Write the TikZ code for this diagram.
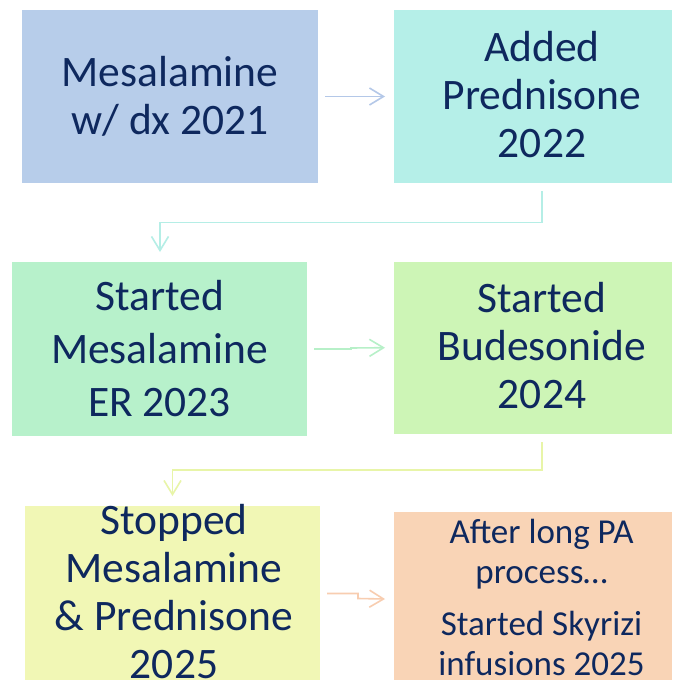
\documentclass[tikz,border=0pt]{standalone}
\usepackage{fontspec}
\setmainfont{Carlito}
\usetikzlibrary{arrows.meta,calc}
\definecolor{navy}{RGB}{14,40,94}
\definecolor{cA}{HTML}{B7CDEA}
\definecolor{cB}{HTML}{B5EFE8}
\definecolor{cC}{HTML}{B7F1CB}
\definecolor{cD}{HTML}{CDF5B6}
\definecolor{cE}{HTML}{F1F7B5}
\definecolor{cF}{HTML}{F9D4B6}
\definecolor{aA}{HTML}{B4C8E8}
\definecolor{aB}{HTML}{B5EEE6}
\definecolor{aC}{HTML}{B7F0C8}
\definecolor{aD}{HTML}{E8F5A8}
\definecolor{aF}{HTML}{F8CDB0}
\tikzset{
  boxnode/.style={draw=none, inner sep=0pt, outer sep=0pt, minimum width=#1},
  txt/.style={text=navy, align=center, inner sep=0pt, font=\fontsize{43.5}{48}\selectfont},
  arr/.style={line width=1.6pt, -{Straight Barb[length=14pt,width=17pt,line width=1.6pt]}},
}
\begin{document}
\begin{tikzpicture}[x=1pt,y=-1pt]
\fill[white] (0,0) rectangle (673,680);
\useasboundingbox (0,0) rectangle (673,680);
% boxes
\node[boxnode=296pt, minimum height=173pt, fill=cA] (b1) at (170,96.5) {};
\node[boxnode=278pt, minimum height=173pt, fill=cB] (b2) at (533,96.5) {};
\node[boxnode=295pt, minimum height=174pt, fill=cC] (b3) at (159.5,349) {};
\node[boxnode=278pt, minimum height=172pt, fill=cD] (b4) at (533,348) {};
\node[boxnode=295pt, minimum height=174pt, fill=cE] (b5) at (172.5,593) {};
\node[boxnode=278pt, minimum height=168pt, fill=cF] (b6) at (533,596) {};
% texts
\node[txt] (t1) at ([yshift=0]b1.center) {Mesalamine\\w/ dx 2021};
\node[txt] (t2) at ([xshift=9,yshift=2]b2.center) {Added\\Prednisone\\2022};
\node[txt, font=\fontsize{43.5}{53}\selectfont] (t3) at ([yshift=0]b3.center) {Started\\Mesalamine\\ER 2023};
\node[txt] (t4) at ([xshift=9,yshift=2]b4.center) {Started\\Budesonide\\2024};
\node[txt] (t5) at ([xshift=1.5,yshift=1]b5.center) {Stopped\\Mesalamine\\\& Prednisone\\2025};
\node[txt, font=\fontsize{35}{40}\selectfont] (t6) at ([xshift=8.5,yshift=-1]b6.center) {After long PA\\process\ldots\\[12pt]Started Skyrizi\\infusions 2025};
% connectors
\draw[arr, aA] ($(b1.east)+(7,0)$) -- ($(b2.west)+(-9,0)$);
\draw[arr, aB] ($(b2.south)+(9,8)$) -- ++(0,31.5) -| ($(b3.north)+(0.5,-10)$);
\draw[arr, aC] ($(b3.east)+(7,0)$) -- ++(37,0) -- ++(0,-1) -- ($(b4.west)+(-9,-0.3)$);
\draw[arr, aD] ($(b4.south)+(9,8)$) -- ++(0,28) -| ($(b5.north)+(0,-10)$);
\draw[arr, aF] ($(b5.east)+(7,0.5)$) -- ++(31,0) -- ++(0,5) -- ($(b6.west)+(-9,3)$);
\end{tikzpicture}
\end{document}
